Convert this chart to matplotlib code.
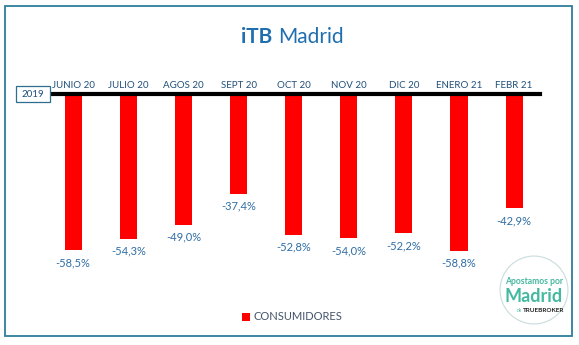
import numpy as np
import matplotlib
matplotlib.use("Agg")
import matplotlib.pyplot as plt
from matplotlib.patches import Rectangle, Circle

# Data
months = ["JUNIO 20", "JULIO 20", "AGOS 20", "SEPT 20", "OCT 20",
          "NOV 20", "DIC 20", "ENERO 21", "FEBR 21"]
consumidores = [-58.5, -54.3, -49.0, -37.4, -52.8, -54.0, -52.2, -58.8, -42.9]
series_name = "CONSUMIDORES"
base_year = "2019"

plt.rcParams['font.family'] = ['Lato', 'DejaVu Sans']

W, H = 579, 345
fig = plt.figure(figsize=(W / 100, H / 100), dpi=100)
fig.patch.set_facecolor('white')

def fx(px):
    return px / W

def fy(py):
    return 1 - py / H

# Main axes: zero line at y=94 px
ax = fig.add_axes([fx(50), fy(270), fx(540) - fx(50), fy(94) - fy(270)])
x = np.arange(len(months))
bars = ax.bar(x, consumidores, width=0.31, color='#FF0000', zorder=2, label=series_name)
ax.set_xlim(-0.42, 8.47)
ax.set_ylim(-66, 0)

# Value labels under each bar
for xi, v in zip(x, consumidores):
    ax.annotate("{:.1f}%".format(v).replace(".", ","), (xi, v),
                xytext=(0, -5), textcoords='offset points',
                ha='center', va='top', fontsize=8, color='#2E6DA4')

# Month labels on top of the zero line
ax.xaxis.tick_top()
ax.set_xticks(x)
ax.set_xticklabels(months, fontsize=7, color='#1F4E79')
ax.tick_params(axis='x', length=0, pad=3)
ax.set_yticks([])
for s in ['left', 'right', 'bottom']:
    ax.spines[s].set_visible(False)
ax.spines['top'].set_linewidth(3)
ax.spines['top'].set_color('black')
ax.spines['top'].set_zorder(5)
ax.patch.set_alpha(0)

# Title: bold "iTB" + regular "Madrid"
title_color = '#1F6FB0'
fig.text(fx(272), fy(37), "iTB", ha='right', va='center', fontsize=15,
         fontweight='bold', color=title_color)
fig.text(fx(278), fy(37), "Madrid", ha='left', va='center', fontsize=15,
         color=title_color)

# 2019 box
fig.patches.append(Rectangle((fx(16), fy(102)), fx(50) - fx(16), fy(86) - fy(102),
                             transform=fig.transFigure, facecolor='white',
                             edgecolor='#2E6E8E', linewidth=0.9, zorder=6))
fig.text(fx(33), fy(94), base_year, ha='center', va='center', fontsize=7,
         color='#1F4E79', zorder=7)

# Legend
fig.legend(handles=[bars], labels=[series_name], loc='center',
           bbox_to_anchor=(fx(292), fy(317)), frameon=False, fontsize=8,
           handlelength=0.7, handleheight=0.7, handletextpad=0.3,
           labelcolor='#44546A')

# Outer border
fig.patches.append(Rectangle((fx(5), fy(336)), fx(572) - fx(5), fy(6) - fy(336),
                             transform=fig.transFigure, facecolor='none',
                             edgecolor='#2E7D9A', linewidth=1.3))

# Logo badge
logo = fig.add_axes([fx(499), fy(325), fx(569) - fx(499), fy(255) - fy(325)])
logo.set_xlim(-1, 1)
logo.set_ylim(-1, 1)
logo.set_aspect('equal')
logo.axis('off')
logo.add_patch(Circle((0, 0), 0.97, facecolor='white', edgecolor='#C9DCDC', linewidth=0.8))
logo.text(0, 0.12, "Apostamos por", ha='center', va='bottom', fontsize=6.2,
          fontweight='bold', color='#45B8A0')
logo.text(0, -0.2, "Madrid", ha='center', va='center', fontsize=13,
          fontweight='bold', color='#45B8A0')
logo.text(-0.42, -0.6, "de", ha='center', va='center', fontsize=3.5, color='#45B8A0')
logo.text(0.28, -0.6, "TRUEBROKER", ha='center', va='center', fontsize=4.6,
          fontweight='bold', color='#222222')

fig.savefig("out.png", dpi=100)
